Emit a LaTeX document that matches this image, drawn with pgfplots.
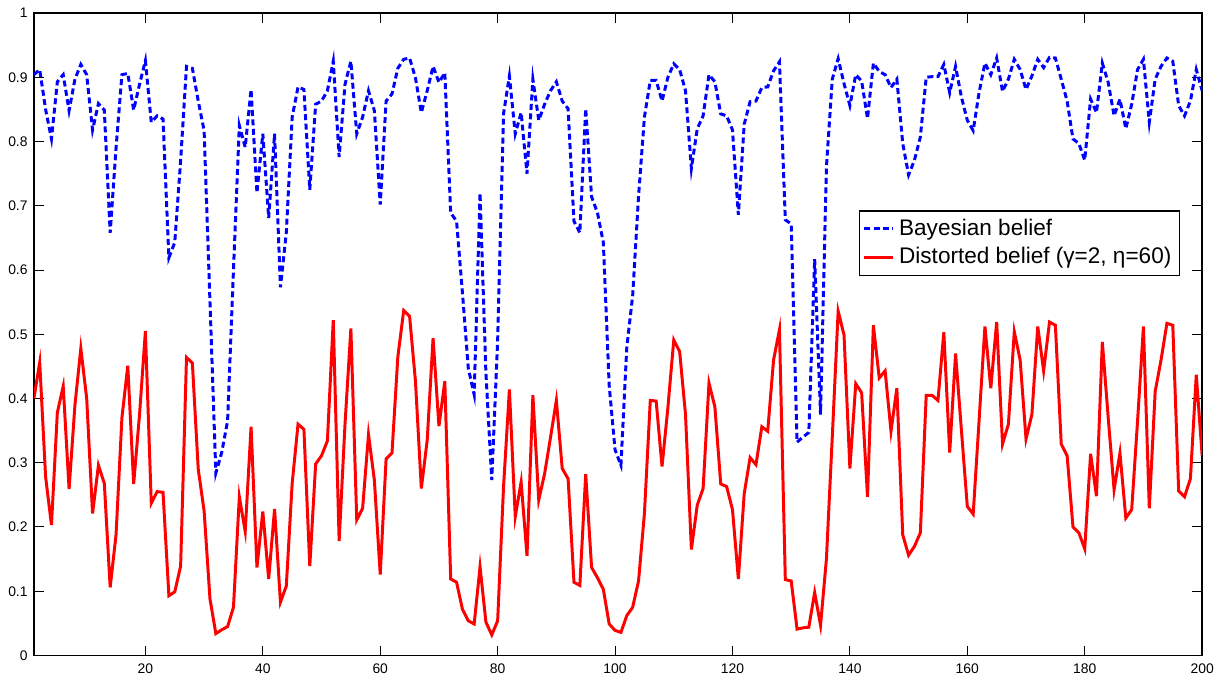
\documentclass[border=0pt]{standalone}
\usepackage{fontspec}
\setmainfont{Liberation Sans}
\usepackage{pgfplots}
\usepackage{pgfplotstable}
\pgfplotsset{compat=1.18}

% n, Bayesian belief, distorted belief
\pgfplotstableread{
n bay dist
1 0.904 0.400
2 0.912 0.456
3 0.850 0.278
4 0.804 0.203
5 0.893 0.378
6 0.904 0.419
7 0.848 0.259
8 0.897 0.390
9 0.920 0.478
10 0.904 0.400
11 0.818 0.221
12 0.859 0.296
13 0.849 0.268
14 0.658 0.106
15 0.790 0.188
16 0.904 0.370
17 0.906 0.451
18 0.849 0.267
19 0.889 0.375
20 0.926 0.505
21 0.830 0.237
22 0.840 0.255
23 0.835 0.254
24 0.619 0.093
25 0.643 0.099
26 0.770 0.139
27 0.917 0.464
28 0.914 0.455
29 0.863 0.290
30 0.817 0.225
31 0.550 0.088
32 0.284 0.034
33 0.316 0.040
34 0.365 0.045
35 0.600 0.075
36 0.825 0.247
37 0.791 0.193
38 0.881 0.356
39 0.720 0.137
40 0.812 0.224
41 0.681 0.119
42 0.812 0.228
43 0.573 0.083
44 0.658 0.108
45 0.838 0.268
46 0.885 0.360
47 0.881 0.352
48 0.725 0.139
49 0.858 0.298
50 0.863 0.311
51 0.879 0.334
52 0.925 0.522
53 0.776 0.178
54 0.889 0.360
55 0.925 0.509
56 0.812 0.211
57 0.838 0.229
58 0.879 0.344
59 0.848 0.273
60 0.702 0.126
61 0.863 0.306
62 0.874 0.315
63 0.914 0.465
64 0.928 0.537
65 0.930 0.528
66 0.899 0.427
67 0.845 0.260
68 0.879 0.335
69 0.917 0.494
70 0.892 0.357
71 0.907 0.427
72 0.689 0.119
73 0.676 0.114
74 0.565 0.072
75 0.447 0.054
76 0.406 0.049
77 0.720 0.138
78 0.440 0.052
79 0.273 0.032
80 0.490 0.054
81 0.843 0.262
82 0.902 0.414
83 0.812 0.216
84 0.845 0.270
85 0.750 0.155
86 0.897 0.405
87 0.833 0.242
88 0.858 0.283
89 0.879 0.339
90 0.893 0.397
91 0.863 0.291
92 0.851 0.275
93 0.676 0.114
94 0.658 0.109
95 0.851 0.282
96 0.714 0.137
97 0.689 0.121
98 0.643 0.103
99 0.420 0.049
100 0.320 0.039
101 0.296 0.036
102 0.480 0.062
103 0.560 0.075
104 0.715 0.116
105 0.838 0.221
106 0.895 0.397
107 0.895 0.396
108 0.863 0.294
109 0.900 0.386
110 0.921 0.491
111 0.912 0.473
112 0.879 0.375
113 0.758 0.165
114 0.820 0.234
115 0.840 0.260
116 0.904 0.424
117 0.893 0.387
118 0.843 0.267
119 0.840 0.263
120 0.818 0.227
121 0.686 0.119
122 0.827 0.252
123 0.862 0.308
124 0.863 0.297
125 0.884 0.356
126 0.885 0.349
127 0.910 0.460
128 0.924 0.507
129 0.678 0.118
130 0.672 0.116
131 0.332 0.041
132 0.340 0.043
133 0.347 0.044
134 0.617 0.098
135 0.375 0.047
136 0.760 0.150
137 0.897 0.340
138 0.929 0.536
139 0.890 0.499
140 0.856 0.291
141 0.904 0.423
142 0.894 0.409
143 0.836 0.247
144 0.922 0.514
145 0.909 0.432
146 0.904 0.443
147 0.884 0.349
148 0.897 0.416
149 0.797 0.188
150 0.748 0.156
151 0.771 0.170
152 0.807 0.191
153 0.900 0.405
154 0.901 0.405
155 0.901 0.397
156 0.920 0.503
157 0.876 0.316
158 0.917 0.470
159 0.869 0.350
160 0.833 0.232
161 0.817 0.220
162 0.876 0.365
163 0.922 0.512
164 0.904 0.416
165 0.930 0.519
166 0.878 0.329
167 0.897 0.360
168 0.928 0.504
169 0.912 0.460
170 0.881 0.337
171 0.902 0.375
172 0.928 0.512
173 0.915 0.443
174 0.931 0.519
175 0.930 0.514
176 0.897 0.329
177 0.863 0.311
178 0.804 0.200
179 0.797 0.191
180 0.771 0.166
181 0.866 0.314
182 0.845 0.248
183 0.922 0.488
184 0.892 0.370
185 0.840 0.258
186 0.866 0.315
187 0.820 0.214
188 0.858 0.227
189 0.912 0.365
190 0.928 0.512
191 0.830 0.229
192 0.897 0.411
193 0.917 0.460
194 0.930 0.517
195 0.925 0.514
196 0.856 0.256
197 0.840 0.247
198 0.863 0.275
199 0.912 0.437
200 0.879 0.311
}\beliefs

\begin{document}
\begin{tikzpicture}
\begin{axis}[
    scale only axis,
    width=471pt, height=259pt,
    xmin=1, xmax=200, ymin=0, ymax=1,
    xtick={20,40,...,200},
    ytick={0,0.1,...,1},
    yticklabels={0,0.1,0.2,0.3,0.4,0.5,0.6,0.7,0.8,0.9,1},
    tick align=inside,
    major tick length=4pt,
    tick style={black, line width=0.4pt},
    axis line style={line width=0.6pt},
    tick label style={font=\fontsize{5.6}{6}\selectfont},
    yticklabel style={xshift=1pt},
    /pgf/number format/assume math mode=true,
    legend cell align=left,
    legend style={at={(0.981,0.693)}, anchor=north east,
        font=\fontsize{9.1}{11}\selectfont, draw=black, line width=0.5pt,
        inner sep=1.2pt, row sep=-0.5pt},
    legend image code/.code={
        \draw[#1] (0pt,0pt) -- (11.5pt,0pt);
    },
]
\addplot[blue, line width=1.2pt, dash pattern=on 2.4pt off 1.4pt] table[x=n, y=bay] {\beliefs};
\addlegendentry{Bayesian belief}
\addplot[red, line width=1.2pt] table[x=n, y=dist] {\beliefs};
\addlegendentry{Distorted belief (γ=2, η=60)}
\end{axis}
\end{tikzpicture}
\end{document}
